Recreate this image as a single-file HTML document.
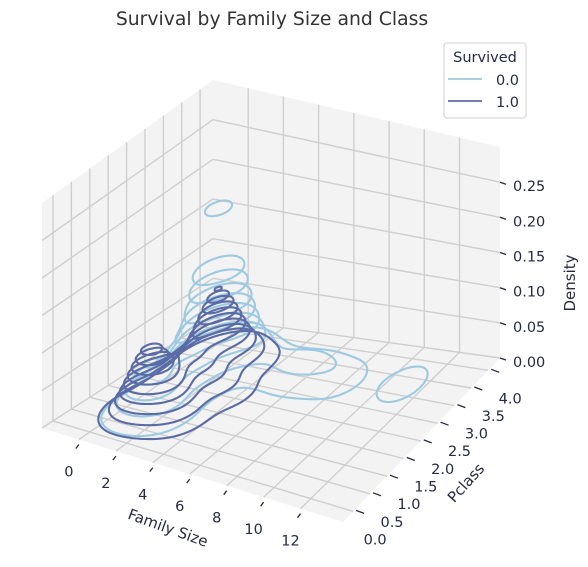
<!DOCTYPE html>
<html><head><meta charset="utf-8">
<style>
html,body{margin:0;padding:0;background:#fff;}
svg{display:block;font-family:"DejaVu Sans","Liberation Sans",sans-serif;}
</style></head>
<body>
<svg id="chart" width="588" height="567" viewBox="0 0 588 567" xmlns="http://www.w3.org/2000/svg">
<text x="272" y="25" text-anchor="middle" font-size="18.8" fill="#333">Survival by Family Size and Class</text>
<g id="panes"></g>
<g id="grid"></g>
<g id="contours"></g>
<g id="ticks"></g>
<text x="168" y="533" text-anchor="middle" font-size="15" fill="#262a44" transform="rotate(20 168 528)">Family Size</text>
<text x="466" y="488" text-anchor="middle" font-size="15" fill="#262a44" transform="rotate(-48 466 483)">Pclass</text>
<text x="570" y="288" text-anchor="middle" font-size="15" fill="#262a44" transform="rotate(-90 570 283)">Density</text>
<g>
<rect x="444" y="43" width="82" height="75" rx="3" fill="#fff" stroke="#d0d0d0"/>
<text x="485" y="62" text-anchor="middle" font-size="14.5" fill="#262a44">Survived</text>
<line x1="448" y1="79" x2="482" y2="79" stroke="#9ecae1" stroke-width="1.8"/>
<text x="519" y="85" text-anchor="end" font-size="14.5" fill="#262a44">0.0</text>
<line x1="448" y1="101" x2="482" y2="101" stroke="#5b6ba6" stroke-width="1.8"/>
<text x="519" y="107" text-anchor="end" font-size="14.5" fill="#262a44">1.0</text>
</g>
</svg>
<script>
// axis data
const xTicks=[0,2,4,6,8,10,12];
const yTicks=[0.0,0.5,1.0,1.5,2.0,2.5,3.0,3.5,4.0];
const zTicks=[0.00,0.05,0.10,0.15,0.20,0.25];
const xTickLabels=["0","2","4","6","8","10","12"];
const yTickLabels=["0.0","0.5","1.0","1.5","2.0","2.5","3.0","3.5","4.0"];
const zTickLabels=["0.00","0.05","0.10","0.15","0.20","0.25"];
// KDE components (family size, pclass, amplitude) per series
const diedX=[1,1,1,2,2,2,3,4,5,6,7,8,11];
const diedY=[3,1,2,3,1,2,3,3,3,3,3,3,3.2];
const diedA=[0.22,0.05,0.05,0.05,0.03,0.02,0.02,0.01,0.015,0.02,0.012,0.01,0.012];
const survX=[1,1,1,2,2,2,3,3,3,4];
const survY=[1,3,2,1,2,3,1,2,3,2];
const survA=[0.07,0.085,0.035,0.04,0.02,0.02,0.015,0.015,0.01,0.006];
const diedLevels=[0.005,0.02,0.035,0.05,0.065,0.08,0.1,0.12,0.2];
const survLevels=[0.005,0.015,0.025,0.035,0.045,0.055,0.065,0.075,0.085,0.095];

const X0=-2,X1=14.3,Y0=-0.3,Y1=4.35,Z1=0.30;
const L=[42,428],F=[343,522],R=[500,358],B=[213,318];
const hL=225,hF=198,hR=211,hB=238;
function proj(x,y,z){
  const u=(x-X0)/(X1-X0), v=(y-Y0)/(Y1-Y0), w=z/Z1;
  const a=(1-u)*(1-v), b=u*(1-v), c=u*v, d=(1-u)*v;
  const px=a*L[0]+b*F[0]+c*R[0]+d*B[0];
  const py=a*L[1]+b*F[1]+c*R[1]+d*B[1];
  const h=a*hL+b*hF+c*hR+d*hB;
  return [px,py-w*h];
}
const NS="http://www.w3.org/2000/svg";
function mk(tag,attrs,parent){const e=document.createElementNS(NS,tag);for(const k in attrs)e.setAttribute(k,attrs[k]);parent.appendChild(e);return e;}
const f=v=>v.toFixed(1);
function poly(pts){return pts.map((p,i)=>(i?'L':'M')+f(p[0])+','+f(p[1])).join('')+'Z';}

const panes=document.getElementById('panes');
let e;
e=mk('path',{d:poly([proj(X0,Y0,0),proj(X1,Y0,0),proj(X1,Y1,0),proj(X0,Y1,0)]),fill:'#f3f3f3'},panes);


e=mk('path',{d:poly([proj(X0,Y0,0),proj(X0,Y1,0),proj(X0,Y1,Z1),proj(X0,Y0,Z1)]),fill:'#f3f3f3'},panes);


e=mk('path',{d:poly([proj(X0,Y1,0),proj(X1,Y1,0),proj(X1,Y1,Z1),proj(X0,Y1,Z1)]),fill:'#f3f3f3'},panes);



const grid=document.getElementById('grid');
function gl(p,q,name){const l=mk('line',{x1:f(p[0]),y1:f(p[1]),x2:f(q[0]),y2:f(q[1]),stroke:'#cfcfcf','stroke-width':1.4},grid);

}
xTicks.forEach(x=>{gl(proj(x,Y0,0),proj(x,Y1,0),'floor-grid-x');gl(proj(x,Y1,0),proj(x,Y1,Z1),'wall-grid-x');});
yTicks.forEach(y=>{gl(proj(X0,y,0),proj(X1,y,0),'floor-grid-y');gl(proj(X0,y,0),proj(X0,y,Z1),'wall-grid-y');});
zTicks.forEach(z=>{gl(proj(X0,Y0,z),proj(X0,Y1,z),'left-wall-grid-z');gl(proj(X0,Y1,z),proj(X1,Y1,z),'right-wall-grid-z');});

// density & marching squares
function dens(xs,ys,as,x,y){let s=0;for(let i=0;i<xs.length;i++){const dx=(x-xs[i])/0.75,dy=(y-ys[i])/0.4;s+=as[i]*Math.exp(-0.5*(dx*dx+dy*dy));}return s;}
const cont=document.getElementById('contours');
function drawSeries(xs,ys,as,levels,color,name){
  const nx=170,ny=100,gx=[],gy=[],G=[];
  for(let i=0;i<=nx;i++)gx.push(X0+(X1-X0)*i/nx);
  for(let j=0;j<=ny;j++)gy.push(Y0+(Y1-Y0)*j/ny);
  for(let i=0;i<=nx;i++){G.push([]);for(let j=0;j<=ny;j++)G[i].push(dens(xs,ys,as,gx[i],gy[j]));}
  levels.forEach(lv=>{
    let d='';
    const ip=(x1,y1,v1,x2,y2,v2)=>{const t=(lv-v1)/(v2-v1);return [x1+t*(x2-x1),y1+t*(y2-y1)];};
    for(let i=0;i<nx;i++)for(let j=0;j<ny;j++){
      const a=G[i][j],b=G[i+1][j],c=G[i+1][j+1],dd=G[i][j+1];
      const pts=[];
      if((a>lv)!=(b>lv))pts.push(ip(gx[i],gy[j],a,gx[i+1],gy[j],b));
      if((b>lv)!=(c>lv))pts.push(ip(gx[i+1],gy[j],b,gx[i+1],gy[j+1],c));
      if((c>lv)!=(dd>lv))pts.push(ip(gx[i+1],gy[j+1],c,gx[i],gy[j+1],dd));
      if((dd>lv)!=(a>lv))pts.push(ip(gx[i],gy[j+1],dd,gx[i],gy[j],a));
      for(let k=0;k+1<pts.length;k+=2){const p=proj(pts[k][0],pts[k][1],lv),q=proj(pts[k+1][0],pts[k+1][1],lv);d+='M'+f(p[0])+','+f(p[1])+'L'+f(q[0])+','+f(q[1]);}
    }
    if(d){const p=mk('path',{d:d,fill:'none',stroke:color,'stroke-width':2.1,'stroke-linecap':'round'},cont);
    
    }
  });
}
drawSeries(diedX,diedY,diedA,diedLevels,'#9ecae1','contour-survived-0');
drawSeries(survX,survY,survA,survLevels,'#5b6ba6','contour-survived-1');

const tk=document.getElementById('ticks');
function tl(p,dx1,dy1,dx2,dy2,name){const l=mk('line',{x1:f(p[0]+dx1),y1:f(p[1]+dy1),x2:f(p[0]+dx2),y2:f(p[1]+dy2),stroke:'#262a44','stroke-width':1.3},tk);

}
function tt(x,y,s,anchor,name){const t=mk('text',{x:f(x),y:f(y),'text-anchor':anchor,'font-size':14.5,fill:'#262a44'},tk);t.textContent=s;

}
xTicks.forEach((x,i)=>{const p=proj(x,Y0,0);tl(p,0,5,-3,9,'x-tick');tt(p[0]-10,p[1]+37,xTickLabels[i],'middle','x-tick-label');});
yTicks.forEach((y,i)=>{const p=proj(X1,y,0);tl(p,3,-1,11,2,'y-tick');tt(p[0]+22,p[1]+33,yTickLabels[i],'middle','y-tick-label');});
zTicks.forEach((z,i)=>{const p=proj(X1,Y1,z);tl(p,0,0,6,2,'z-tick');tt(p[0]+13,p[1]+9,zTickLabels[i],'start','z-tick-label');});
</script>
</body></html>
